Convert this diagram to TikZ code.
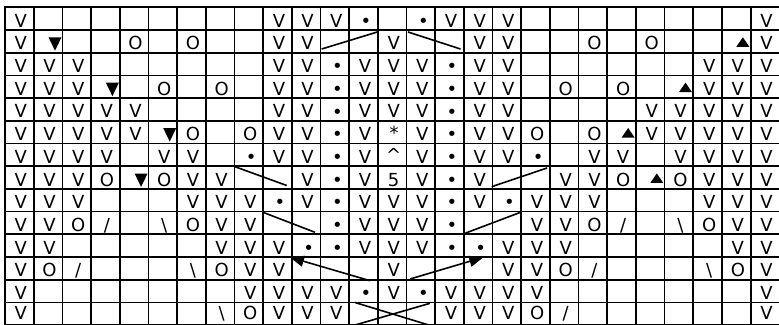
\documentclass[tikz,border=0pt]{standalone}
\usepackage{fontspec}
\setmainfont{DejaVu Sans}
\usetikzlibrary{arrows.meta,calc}
\newcommand\txtV{V}
\newcommand\txtO{O}
\newcommand\txtB{•}
\newcommand\txtS{*}
\newcommand\txtC{\textasciicircum}
\newcommand\txtF{5}
\newcommand\txtL{/}
\newcommand\txtR{\textbackslash}
\begin{document}
\begin{tikzpicture}[x=1pt,y=-1pt,
  gridline/.style={line width=1.7pt, line cap=rect},
  basecell/.style={inner sep=0pt, font=\fontsize{18}{20}\selectfont},
  cell/.style={basecell, anchor=base, shift={(1.5,19.8)}},
  symV/.style={cell}, symO/.style={cell}, symF/.style={cell},
  symL/.style={cell}, symR/.style={cell},
  symB/.style={basecell, anchor=center, shift={(2.5,15.4)}},
  symS/.style={basecell, anchor=center, shift={(2,11.8)}},
  symC/.style={basecell, anchor=center, shift={(1.5,11.5)}},
  slant/.style={line width=1.6pt},
  arr/.style={line width=1.6pt, -{Triangle[length=14pt,width=11pt]}}]
\useasboundingbox (0,0) rectangle (779,324);
\def\cw{28.68}\def\rh{22.7}\def\xo{5}\def\yo{7.3}
% grid
\foreach \k in {0,...,27}
  \draw[gridline] ({\xo+\cw*\k},\yo) -- ({\xo+\cw*\k},{\yo+\rh*14});
\foreach \r in {0,...,14}
  \draw[gridline] (\xo,{\yo+\rh*\r}) -- ({\xo+\cw*27},{\yo+\rh*\r});
% cell texts (rows 0-12)
\foreach \r/\lst in {
 0/{0/V,9/V,10/V,11/V,12/B,14/B,15/V,16/V,17/V,26/V},
 1/{0/V,4/O,6/O,9/V,10/V,13/V,16/V,17/V,20/O,22/O,26/V},
 2/{0/V,1/V,2/V,9/V,10/V,11/B,12/V,13/V,14/V,15/B,16/V,17/V,24/V,25/V,26/V},
 3/{0/V,1/V,2/V,5/O,7/O,9/V,10/V,11/B,12/V,13/V,14/V,15/B,16/V,17/V,19/O,21/O,24/V,25/V,26/V},
 4/{0/V,1/V,2/V,3/V,4/V,9/V,10/V,11/B,12/V,13/V,14/V,15/B,16/V,17/V,22/V,23/V,24/V,25/V,26/V},
 5/{0/V,1/V,2/V,3/V,4/V,6/O,8/O,9/V,10/V,11/B,12/V,13/S,14/V,15/B,16/V,17/V,18/O,20/O,22/V,23/V,24/V,25/V,26/V},
 6/{0/V,1/V,2/V,3/V,5/V,6/V,8/B,9/V,10/V,11/B,12/V,13/C,14/V,15/B,16/V,17/V,18/B,20/V,21/V,23/V,24/V,25/V,26/V},
 7/{0/V,1/V,2/V,3/O,5/O,6/V,7/V,10/V,11/B,12/V,13/F,14/V,15/B,16/V,19/V,20/V,21/O,23/O,24/V,25/V,26/V},
 8/{0/V,1/V,2/V,6/V,7/V,8/V,9/B,10/V,11/B,12/V,13/V,14/V,15/B,16/V,17/B,18/V,19/V,20/V,24/V,25/V,26/V},
 9/{0/V,1/V,2/O,3/L,5/R,6/O,7/V,8/V,11/B,12/V,13/V,14/V,15/B,18/V,19/V,20/O,21/L,23/R,24/O,25/V,26/V},
 10/{0/V,1/V,7/V,8/V,9/V,10/B,11/B,12/V,13/V,14/V,15/B,16/B,17/V,18/V,19/V,25/V,26/V},
 11/{0/V,1/O,2/L,6/R,7/O,8/V,9/V,13/V,17/V,18/V,19/O,20/L,24/R,25/O,26/V},
 12/{0/V,8/V,9/V,10/V,11/V,12/B,13/V,14/B,15/V,16/V,17/V,18/V,26/V}}
{
  \foreach \c/\s in \lst {
    \node[sym\s] (n-\r-\c) at ({\xo+\cw*(\c+0.5)},{\yo+\rh*\r}) {\csname txt\s\endcsname};
  }
}
% last row, cut by the lower edge: nudged up slightly
\foreach \c/\s in {0/V,7/R,8/O,9/V,10/V,11/V,15/V,16/V,17/V,18/O,19/L,26/V} {
  \node[sym\s, yshift=2.6pt] (n-13-\c) at ({\xo+\cw*(\c+0.5)},{\yo+\rh*13}) {\csname txt\s\endcsname};
}
% down triangles
\foreach \r/\c in {1/1,3/3,5/5,7/4} {
  \coordinate (dn-\r-\c) at ({\xo+\cw*(\c+0.5)+7},{\yo+\rh*\r+14});
  \fill (dn-\r-\c) ++(-6.5,-6.7) -- ++(13,0) -- ++(-6.5,13.4) -- cycle;
}
% up triangles
\foreach \r/\c in {1/25,3/23,5/21,7/22} {
  \coordinate (up-\r-\c) at ({\xo+\cw*(\c+0.5)+6.5},{\yo+\rh*\r+12});
  \fill (up-\r-\c) ++(-6.5,4.75) -- ++(13,0) -- ++(-6.5,-9.5) -- cycle;
}
% slanted lines
\coordinate (a1) at (321.7,49);   \coordinate (a2) at (378,31.8);
\coordinate (b1) at (408,32);     \coordinate (b2) at (460.5,49);
\coordinate (c1) at (235,166.7);  \coordinate (c2) at (286.7,185.5);
\coordinate (d1) at (491.7,186.7);\coordinate (d2) at (547,168);
\coordinate (e1) at (263.5,212.5);\coordinate (e2) at (315,232.3);
\coordinate (f1) at (465,233.3);  \coordinate (f2) at (520,212.5);
\coordinate (g1) at (355,302.5);  \coordinate (g2) at (432,326);
\coordinate (h1) at (351.7,326);  \coordinate (h2) at (430,303.3);
\draw[slant] (a1) -- (a2);
\draw[slant] (b1) -- (b2);
\draw[slant] (c1) -- (c2);
\draw[slant] (d1) -- (d2);
\draw[slant] (e1) -- (e2);
\draw[slant] (f1) -- (f2);
\draw[slant] (g1) -- (g2);
\draw[slant] (h1) -- (h2);
% arrows
\coordinate (p1) at (370,280.7);  \coordinate (p2) at (290,257.3);
\coordinate (q1) at (410,279);    \coordinate (q2) at (483.3,257.3);
\draw[arr] (p1) -- (p2);
\draw[arr] (q1) -- (q2);
\end{tikzpicture}
\end{document}
